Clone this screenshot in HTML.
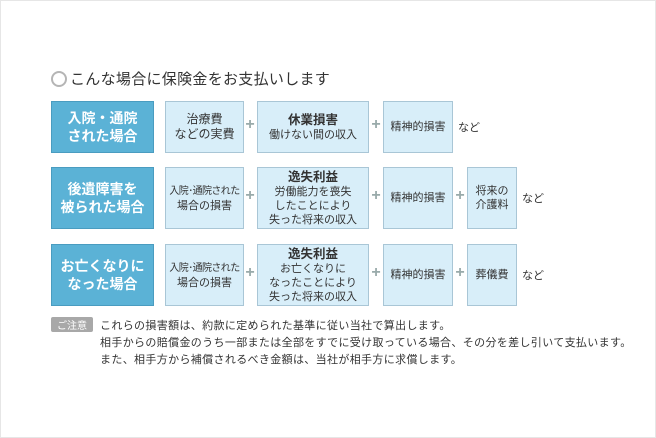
<!DOCTYPE html>
<html><head><meta charset="utf-8"><style>
body{margin:0;width:656px;height:438px;overflow:hidden;background:#fff;font-family:"Liberation Sans","Noto Sans CJK JP",sans-serif;}
.frame{position:absolute;left:0;top:0;width:654px;height:436px;border:1px solid #e6e6e6;}
.a{position:absolute;box-sizing:border-box;display:flex;align-items:center;justify-content:center;text-align:center;}
.blue{background:#5bb2d6;border:1px solid #4a9cc0;color:#fff;font-weight:bold;font-size:14px;line-height:18px;}
.lb{background:#d8eef9;border:1px solid #a9c6d6;color:#333;font-size:11px;line-height:14px;}
.lb b{font-size:12.5px;font-weight:bold;display:block;line-height:16px;}
.plus{position:absolute;color:#9aa;font-size:16px;font-weight:bold;width:12px;text-align:center;}
.t{position:absolute;color:#333;font-size:11px;white-space:nowrap;}
.nw{white-space:nowrap;font-size:10px;letter-spacing:-0.6px;}
</style></head><body>
<div class="frame"></div>
<div style="position:absolute;left:51px;top:71px;width:12px;height:12px;border:2px solid #b5b5b5;border-radius:50%;"></div>
<div class="t" style="left:70px;top:68px;font-size:15px;color:#333;letter-spacing:0.3px;">こんな場合に保険金をお支払いします</div>

<div class="a blue" style="left:51px;top:101px;width:103px;height:52px;">入院・通院<br>された場合</div>
<div class="a lb" style="left:165px;top:101px;width:79px;height:52px;font-size:12px;line-height:15px;">治療費<br>などの実費</div>
<div class="plus" style="left:244px;top:116px;">+</div>
<div class="a lb" style="left:257px;top:101px;width:112px;height:52px;"><div><b>休業損害</b>働けない間の収入</div></div>
<div class="plus" style="left:370px;top:116px;">+</div>
<div class="a lb" style="left:383px;top:101px;width:70px;height:52px;">精神的損害</div>
<div class="t" style="left:458px;top:119px;">など</div>

<div class="a blue" style="left:51px;top:167px;width:103px;height:62px;">後遺障害を<br>被られた場合</div>
<div class="a lb" style="left:165px;top:167px;width:79px;height:62px;"><div><span class="nw">入院･通院された</span><br>場合の損害</div></div>
<div class="plus" style="left:244px;top:187px;">+</div>
<div class="a lb" style="left:257px;top:167px;width:112px;height:62px;"><div><b>逸失利益</b>労働能力を喪失<br>したことにより<br>失った将来の収入</div></div>
<div class="plus" style="left:370px;top:187px;">+</div>
<div class="a lb" style="left:383px;top:167px;width:70px;height:62px;">精神的損害</div>
<div class="plus" style="left:454px;top:187px;">+</div>
<div class="a lb" style="left:467px;top:167px;width:50px;height:62px;">将来の<br>介護料</div>
<div class="t" style="left:522px;top:190px;">など</div>

<div class="a blue" style="left:51px;top:244px;width:103px;height:62px;">お亡くなりに<br>なった場合</div>
<div class="a lb" style="left:165px;top:244px;width:79px;height:62px;"><div><span class="nw">入院･通院された</span><br>場合の損害</div></div>
<div class="plus" style="left:244px;top:264px;">+</div>
<div class="a lb" style="left:257px;top:244px;width:112px;height:62px;"><div><b>逸失利益</b>お亡くなりに<br>なったことにより<br>失った将来の収入</div></div>
<div class="plus" style="left:370px;top:264px;">+</div>
<div class="a lb" style="left:383px;top:244px;width:70px;height:62px;">精神的損害</div>
<div class="plus" style="left:454px;top:264px;">+</div>
<div class="a lb" style="left:467px;top:244px;width:50px;height:62px;">葬儀費</div>
<div class="t" style="left:522px;top:267px;">など</div>

<div class="a" style="left:51px;top:317px;width:42px;height:15px;background:#a8a8a8;border-radius:2px;color:#fff;font-size:10px;">ご注意</div>
<div class="t" style="left:100px;top:318px;line-height:17px;letter-spacing:0.35px;">これらの損害額は、約款に定められた基準に従い当社で算出します。<br>相手からの賠償金のうち一部または全部をすでに受け取っている場合、その分を差し引いて支払います。<br>また、相手方から補償されるべき金額は、当社が相手方に求償します。</div>
</body></html>
